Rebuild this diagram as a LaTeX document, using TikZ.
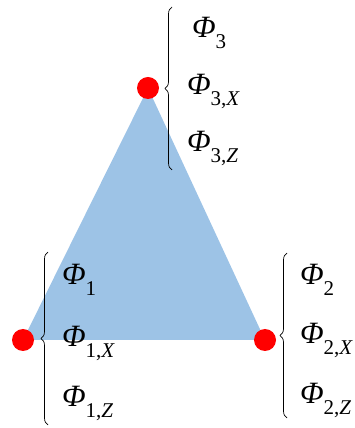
\documentclass[tikz,border=0pt]{standalone}
\usepackage{fontspec}
\setmainfont{Liberation Serif}
\usetikzlibrary{decorations.pathreplacing}
\newcommand{\philab}[2]{{\fontsize{31}{31}\selectfont\textit{Φ}}\raisebox{-11pt}{\fontsize{21}{21}\selectfont #2}}
\tikzset{
  vdot/.style={circle, fill=red, draw=none, minimum size=22pt, inner sep=0pt},
  bracestyle/.style={decorate, decoration={brace, amplitude=7pt}, line width=0.7pt},
  lab/.style={anchor=base west, inner sep=0pt, outer sep=0pt}
}
\begin{document}
\begin{tikzpicture}[x=1pt,y=1pt]
\useasboundingbox (0,0) rectangle (355,428);
% vertices
\coordinate (p1) at (23,88);
\coordinate (p2) at (265,88);
\coordinate (p3) at (148,340);
\fill[fill={rgb,255:red,157;green,195;blue,230}] (p1) -- (p3) -- (p2) -- cycle;
\node[vdot] (v1) at (p1) {};
\node[vdot] (v2) at (p2) {};
\node[vdot] (v3) at (p3) {};
% braces
\coordinate (b3t) at (172,421);
\coordinate (b3b) at (172,258);
\coordinate (b1t) at (48,176);
\coordinate (b1b) at (48,3);
\coordinate (b2t) at (287,175);
\coordinate (b2b) at (287,10);
\draw[bracestyle] (b3b) -- (b3t);
\draw[bracestyle] (b1b) -- (b1t);
\draw[bracestyle] (b2b) -- (b2t);
% labels top
\node[lab] (t3a) at (192,390) {\philab{Φ}{3}};
\node[lab] (t3b) at (187,333) {\philab{Φ}{3,\textit{X}}};
\node[lab] (t3c) at (187,276) {\philab{Φ}{3,\textit{Z}}};
% labels left
\node[lab] (t1a) at (62,143) {\philab{Φ}{1}};
\node[lab] (t1b) at (62,81) {\philab{Φ}{1,\textit{X}}};
\node[lab] (t1c) at (62,21) {\philab{Φ}{1,\textit{Z}}};
% labels right
\node[lab] (t2a) at (300,143) {\philab{Φ}{2}};
\node[lab] (t2b) at (300,84) {\philab{Φ}{2,\textit{X}}};
\node[lab] (t2c) at (300,24) {\philab{Φ}{2,\textit{Z}}};
\end{tikzpicture}
\end{document}
